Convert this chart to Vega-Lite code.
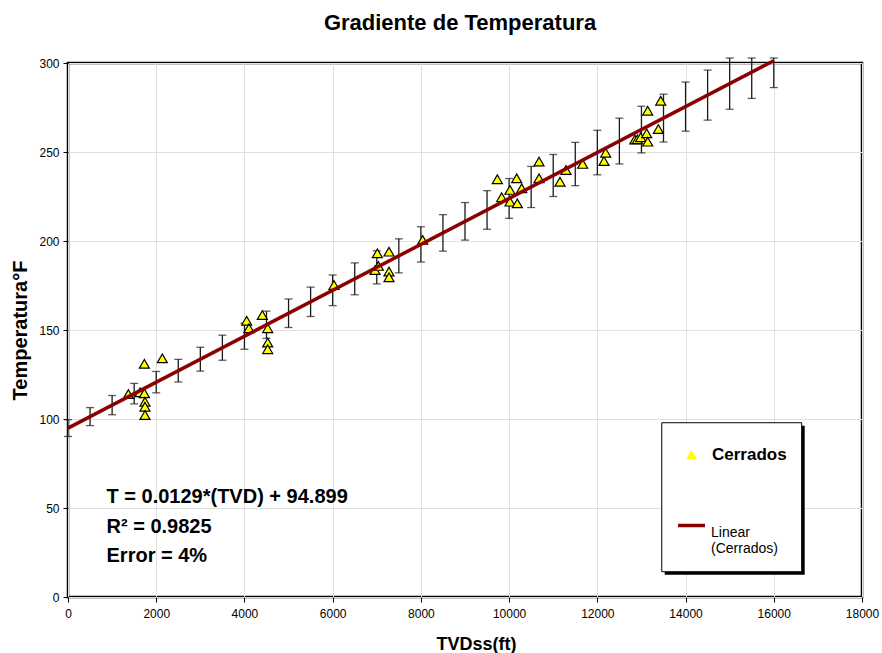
{
  "$schema": "https://vega.github.io/schema/vega-lite/v6.json",
  "width": 794,
  "height": 534,
  "autosize": {"type": "none"},
  "padding": {"left": 68, "top": 63, "right": 20, "bottom": 56},
  "background": "white",
  "title": {
    "text": "Gradiente de Temperatura",
    "fontSize": 22,
    "fontWeight": "bold",
    "font": "Liberation Sans",
    "color": "black",
    "anchor": "middle",
    "baseline": "alphabetic",
    "offset": 2,
    "dx": -5
  },
  "config": {
    "font": "Liberation Sans",
    "view": {"stroke": "black", "strokeWidth": 2.5},
    "axis": {
      "labelFont": "Liberation Sans",
      "labelFontSize": 12,
      "labelColor": "black",
      "tickColor": "black",
      "tickSize": 5,
      "tickWidth": 1,
      "domain": false,
      "grid": true,
      "gridColor": "#e0e0e0",
      "gridWidth": 1,
      "titleFont": "Liberation Sans",
      "titleFontSize": 18,
      "titleFontWeight": "bold",
      "titleColor": "black",
      "labelFlush": false,
      "labelOverlap": false
    }
  },
  "datasets": {
    "cerrados": [
      {"tvd": 1368, "temp": 114.0, "serie": "Cerrados"},
      {"tvd": 1632, "temp": 115.0, "serie": "Cerrados"},
      {"tvd": 1731, "temp": 131.0, "serie": "Cerrados"},
      {"tvd": 1731, "temp": 114.4, "serie": "Cerrados"},
      {"tvd": 1745, "temp": 109.7, "serie": "Cerrados"},
      {"tvd": 1745, "temp": 106.9, "serie": "Cerrados"},
      {"tvd": 1745, "temp": 102.2, "serie": "Cerrados"},
      {"tvd": 2138, "temp": 134.1, "serie": "Cerrados"},
      {"tvd": 4051, "temp": 155.2, "serie": "Cerrados"},
      {"tvd": 4103, "temp": 151.0, "serie": "Cerrados"},
      {"tvd": 4405, "temp": 158.4, "serie": "Cerrados"},
      {"tvd": 4527, "temp": 151.0, "serie": "Cerrados"},
      {"tvd": 4527, "temp": 142.9, "serie": "Cerrados"},
      {"tvd": 4527, "temp": 139.2, "serie": "Cerrados"},
      {"tvd": 6030, "temp": 175.3, "serie": "Cerrados"},
      {"tvd": 6960, "temp": 183.7, "serie": "Cerrados"},
      {"tvd": 7013, "temp": 193.1, "serie": "Cerrados"},
      {"tvd": 7036, "temp": 186.0, "serie": "Cerrados"},
      {"tvd": 7277, "temp": 194.0, "serie": "Cerrados"},
      {"tvd": 7277, "temp": 182.8, "serie": "Cerrados"},
      {"tvd": 7277, "temp": 179.6, "serie": "Cerrados"},
      {"tvd": 8041, "temp": 200.6, "serie": "Cerrados"},
      {"tvd": 9733, "temp": 234.7, "serie": "Cerrados"},
      {"tvd": 9832, "temp": 224.6, "serie": "Cerrados"},
      {"tvd": 10020, "temp": 228.7, "serie": "Cerrados"},
      {"tvd": 10020, "temp": 222.1, "serie": "Cerrados"},
      {"tvd": 10172, "temp": 235.2, "serie": "Cerrados"},
      {"tvd": 10186, "temp": 221.2, "serie": "Cerrados"},
      {"tvd": 10285, "temp": 229.6, "serie": "Cerrados"},
      {"tvd": 10678, "temp": 244.6, "serie": "Cerrados"},
      {"tvd": 10678, "temp": 235.2, "serie": "Cerrados"},
      {"tvd": 11154, "temp": 233.3, "serie": "Cerrados"},
      {"tvd": 11290, "temp": 239.9, "serie": "Cerrados"},
      {"tvd": 11668, "temp": 243.3, "serie": "Cerrados"},
      {"tvd": 12151, "temp": 244.9, "serie": "Cerrados"},
      {"tvd": 12190, "temp": 249.6, "serie": "Cerrados"},
      {"tvd": 12850, "temp": 257.0, "serie": "Cerrados"},
      {"tvd": 12907, "temp": 257.1, "serie": "Cerrados"},
      {"tvd": 12983, "temp": 258.3, "serie": "Cerrados"},
      {"tvd": 13119, "temp": 260.5, "serie": "Cerrados"},
      {"tvd": 13142, "temp": 255.8, "serie": "Cerrados"},
      {"tvd": 13142, "temp": 273.2, "serie": "Cerrados"},
      {"tvd": 13383, "temp": 262.9, "serie": "Cerrados"},
      {"tvd": 13437, "temp": 278.8, "serie": "Cerrados"}
    ],
    "errores": [
      {"tvd": 0, "lo": 90.2, "hi": 99.6},
      {"tvd": 500, "lo": 96.3, "hi": 106.4},
      {"tvd": 1000, "lo": 102.4, "hi": 113.2},
      {"tvd": 1500, "lo": 108.5, "hi": 120.0},
      {"tvd": 2000, "lo": 114.7, "hi": 126.7},
      {"tvd": 2500, "lo": 120.8, "hi": 133.5},
      {"tvd": 3000, "lo": 126.9, "hi": 140.3},
      {"tvd": 3500, "lo": 133.0, "hi": 147.1},
      {"tvd": 4000, "lo": 139.2, "hi": 153.8},
      {"tvd": 4500, "lo": 145.3, "hi": 160.6},
      {"tvd": 5000, "lo": 151.4, "hi": 167.4},
      {"tvd": 5500, "lo": 157.6, "hi": 174.1},
      {"tvd": 6000, "lo": 163.7, "hi": 180.9},
      {"tvd": 6500, "lo": 169.8, "hi": 187.7},
      {"tvd": 7000, "lo": 175.9, "hi": 194.5},
      {"tvd": 7500, "lo": 182.1, "hi": 201.2},
      {"tvd": 8000, "lo": 188.2, "hi": 208.0},
      {"tvd": 8500, "lo": 194.3, "hi": 214.8},
      {"tvd": 9000, "lo": 200.5, "hi": 221.6},
      {"tvd": 9500, "lo": 206.6, "hi": 228.3},
      {"tvd": 10000, "lo": 212.7, "hi": 235.1},
      {"tvd": 10500, "lo": 218.8, "hi": 241.9},
      {"tvd": 11000, "lo": 225.0, "hi": 248.6},
      {"tvd": 11500, "lo": 231.1, "hi": 255.4},
      {"tvd": 12000, "lo": 237.2, "hi": 262.2},
      {"tvd": 12500, "lo": 243.3, "hi": 269.0},
      {"tvd": 13000, "lo": 249.5, "hi": 275.7},
      {"tvd": 13500, "lo": 255.6, "hi": 282.5},
      {"tvd": 14000, "lo": 261.7, "hi": 289.3},
      {"tvd": 14500, "lo": 267.9, "hi": 296.0},
      {"tvd": 15000, "lo": 274.0, "hi": 302.8},
      {"tvd": 15500, "lo": 280.1, "hi": 302.8},
      {"tvd": 16000, "lo": 286.2, "hi": 302.8}
    ],
    "tendencia": [
      {"tvd": 0, "temp": 94.899, "serie": "Linear (Cerrados)"},
      {"tvd": 16000, "temp": 301.299, "serie": "Linear (Cerrados)"}
    ]
  },
  "layer": [
    {
      "data": {"name": "errores"},
      "mark": {"type": "rule", "color": "#1a1a1a", "strokeWidth": 1.3},
      "encoding": {
        "x": {
          "field": "tvd", "type": "quantitative",
          "scale": {"domain": [0, 18000], "nice": false, "zero": false},
          "title": "TVDss(ft)",
          "axis": {
            "values": [0, 2000, 4000, 6000, 8000, 10000, 12000, 14000, 16000, 18000],
            "format": "d",
            "labelPadding": 6,
            "titleX": 408,
            "titleY": 52,
            "titleAlign": "center",
            "titleBaseline": "alphabetic"
          }
        },
        "y": {
          "field": "lo", "type": "quantitative",
          "scale": {"domain": [0, 300], "nice": false, "zero": false},
          "title": "Temperatura°F",
          "axis": {
            "values": [0, 50, 100, 150, 200, 250, 300],
            "labelPadding": 4,
            "titleX": -42,
            "titleY": 267,
            "titleAlign": "center",
            "titleBaseline": "alphabetic",
            "titleAngle": -90,
            "titleFontSize": 20
          }
        },
        "y2": {"field": "hi"}
      }
    },
    {
      "data": {"name": "errores"},
      "mark": {"type": "tick", "orient": "horizontal", "size": 8, "thickness": 1.3, "color": "#1a1a1a"},
      "encoding": {
        "x": {"field": "tvd", "type": "quantitative", "title": "TVDss(ft)"},
        "y": {"field": "lo", "type": "quantitative", "title": "Temperatura°F"}
      }
    },
    {
      "data": {"name": "errores"},
      "mark": {"type": "tick", "orient": "horizontal", "size": 8, "thickness": 1.3, "color": "#1a1a1a"},
      "encoding": {
        "x": {"field": "tvd", "type": "quantitative", "title": "TVDss(ft)"},
        "y": {"field": "hi", "type": "quantitative", "title": "Temperatura°F"}
      }
    },
    {
      "data": {"name": "cerrados"},
      "mark": {"type": "point", "filled": true, "fill": "#FFFF00", "stroke": "black", "strokeWidth": 1.2, "size": 100, "opacity": 1},
      "encoding": {
        "x": {"field": "tvd", "type": "quantitative", "title": "TVDss(ft)"},
        "y": {"field": "temp", "type": "quantitative", "title": "Temperatura°F"},
        "shape": {
          "field": "serie", "type": "nominal",
          "scale": {"range": ["triangle-up"]},
          "legend": {
            "title": null,
            "orient": "none",
            "legendX": 615,
            "legendY": 383,
            "padding": 0,
            "labelFont": "Liberation Sans",
            "labelFontSize": 17,
            "labelFontWeight": "bold",
            "labelColor": "black",
            "labelOffset": 12,
            "symbolSize": 110,
            "symbolType": "triangle-up",
            "symbolFillColor": "#FFFF00",
            "symbolStrokeColor": "black",
            "symbolStrokeWidth": 1.2,
            "symbolOpacity": 1,
            "encode": {
              "symbols": {
                "update": {
                  "fill": {"value": "#FFFF00"},
                  "stroke": {"value": "black"},
                  "strokeWidth": {"value": 1.2},
                  "opacity": {"value": 1}
                }
              }
            }
          }
        }
      }
    },
    {
      "data": {"name": "tendencia"},
      "mark": {"type": "line", "strokeWidth": 3.5},
      "encoding": {
        "x": {"field": "tvd", "type": "quantitative", "title": "TVDss(ft)"},
        "y": {"field": "temp", "type": "quantitative", "title": "Temperatura°F"},
        "color": {
          "field": "serie", "type": "nominal",
          "scale": {"range": ["#8B0000"]},
          "legend": {
            "title": null,
            "orient": "none",
            "legendX": 608,
            "legendY": 447,
            "padding": 0,
            "labelFont": "Liberation Sans",
            "labelFontSize": 14,
            "labelColor": "black",
            "labelOffset": 4,
            "labelExpr": "['Linear', '(Cerrados)']",
            "labelBaseline": "top",
            "labelLineHeight": 15,
            "symbolType": "stroke",
            "symbolSize": 729,
            "symbolStrokeWidth": 3.5
          }
        }
      }
    },
    {
      "data": {"values": [{}]},
      "mark": {"type": "rect", "fill": "black", "xOffset": 3, "x2Offset": 3, "yOffset": 3, "y2Offset": 3},
      "encoding": {
        "x": {"datum": 13460},
        "x2": {"datum": 16633},
        "y": {"datum": 97.9},
        "y2": {"datum": 14.2}
      }
    },
    {
      "data": {"values": [{}]},
      "mark": {"type": "rect", "fill": "white", "stroke": "black", "strokeWidth": 1},
      "encoding": {
        "x": {"datum": 13460},
        "x2": {"datum": 16633},
        "y": {"datum": 97.9},
        "y2": {"datum": 14.2}
      }
    },
    {
      "data": {"values": [{}]},
      "mark": {
        "type": "text",
        "align": "left",
        "baseline": "alphabetic",
        "font": "Liberation Sans",
        "fontSize": 20,
        "fontWeight": "bold",
        "color": "black",
        "lineHeight": 29.5,
        "text": ["T = 0.0129*(TVD) + 94.899", "R² = 0.9825", "Error = 4%"]
      },
      "encoding": {
        "x": {"datum": 873},
        "y": {"datum": 52.6}
      }
    }
  ]
}
